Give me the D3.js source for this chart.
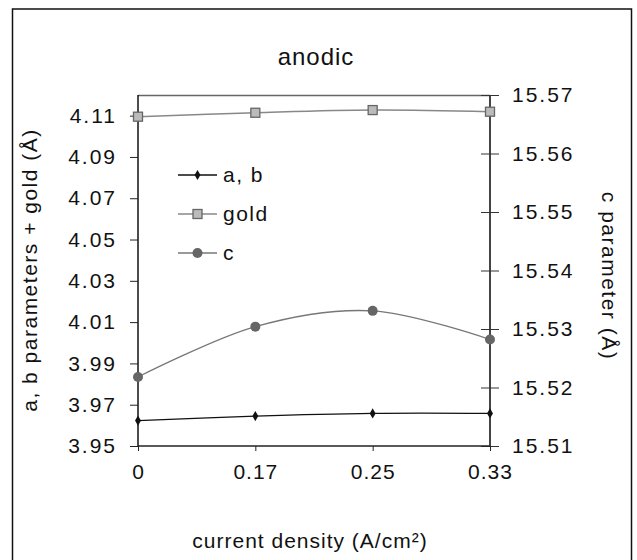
<!DOCTYPE html>
<html>
<head>
<meta charset="utf-8">
<script src="https://cdn.jsdelivr.net/npm/d3@7"></script>
<style>
  body { margin: 0; background: #fff; }
  svg text { font-family: Arial, "Liberation Sans", sans-serif; fill: #111; }
</style>
</head>
<body>
<svg id="chart" width="637" height="560"></svg>
<script>
// data
var categories = ["0", "0.17", "0.25", "0.33"];
var abValues   = [3.9623, 3.9645, 3.9658, 3.9658];
var goldValues = [4.1095, 4.1114, 4.1127, 4.1119];
var cValues    = [15.5218, 15.5304, 15.5331, 15.5282];
var leftTicks  = [3.95, 3.97, 3.99, 4.01, 4.03, 4.05, 4.07, 4.09, 4.11];
var rightTicks = [15.51, 15.52, 15.53, 15.54, 15.55, 15.56, 15.57];

var svg = d3.select("#chart");

var margin = {top: 95, right: 147, bottom: 114, left: 138},
    width = 637 - margin.left - margin.right,
    height = 560 - margin.top - margin.bottom;

// outer frame
svg.append("rect")
  .attr("x", 12.5).attr("y", 9)
  .attr("width", 619).attr("height", 570)
  .attr("fill", "none").attr("stroke", "#111").attr("stroke-width", 1.5);

var g = svg.append("g").attr("transform", "translate(" + margin.left + "," + margin.top + ")");

var x = d3.scalePoint().domain(categories).range([0, width]).padding(0);
var yLeft = d3.scaleLinear().domain([3.95, 4.12]).range([height, 0]);
var yRight = d3.scaleLinear().domain([15.51, 15.57]).range([height, 0]);

// top border of plot
g.append("line").attr("x1", 0).attr("x2", width).attr("y1", 0.5).attr("y2", 0.5)
  .attr("stroke", "#666").attr("stroke-width", 1.5);

// left axis
var left = g.append("g")
  .call(d3.axisLeft(yLeft).tickValues(leftTicks).tickSize(8).tickPadding(13).tickFormat(d3.format(".2f")));
left.select(".domain").attr("stroke", "#111").attr("stroke-width", 1.5).attr("d", "M0," + height + "V0");
left.selectAll(".tick line").attr("stroke", "#222");
left.selectAll("text").attr("font-size", 21).attr("letter-spacing", 2).attr("fill", "#111");

// right axis with crossing ticks
var right = g.append("g").attr("transform", "translate(" + width + ",0)")
  .call(d3.axisRight(yRight).tickValues(rightTicks).tickSize(9).tickPadding(13).tickFormat(d3.format(".2f")));
right.select(".domain").attr("stroke", "#444").attr("stroke-width", 2).attr("d", "M0," + height + "V0");
right.selectAll(".tick line").attr("x1", -9).attr("stroke", "#333");
right.selectAll("text").attr("font-size", 21).attr("letter-spacing", 2).attr("fill", "#111");

// bottom axis
var bottom = g.append("g").attr("transform", "translate(0," + height + ")")
  .call(d3.axisBottom(x).tickSize(5).tickPadding(13));
bottom.select(".domain").attr("stroke", "#222").attr("stroke-width", 1.5).attr("d", "M0,0H" + width);
bottom.selectAll(".tick line").attr("stroke", "#222");
bottom.selectAll("text").attr("font-size", 21).attr("letter-spacing", 1).attr("fill", "#111");

// series lines (smoothed like the original)
function lineFor(yScale) {
  return d3.line()
    .x(function(d, i) { return x(categories[i]); })
    .y(function(d) { return yScale(d); })
    .curve(d3.curveCardinal.tension(0));
}

g.append("path").datum(goldValues).attr("d", lineFor(yLeft))
  .attr("fill", "none").attr("stroke", "#888").attr("stroke-width", 1.5);
g.append("path").datum(cValues).attr("d", lineFor(yRight))
  .attr("fill", "none").attr("stroke", "#777").attr("stroke-width", 1.3);
g.append("path").datum(abValues).attr("d", lineFor(yLeft))
  .attr("fill", "none").attr("stroke", "#111").attr("stroke-width", 1.3);

// markers
var diamond = d3.symbol().type(d3.symbolDiamond).size(30);
function drawAb(sel) {
  sel.attr("d", diamond).attr("fill", "#111");
}
function drawGold(sel) {
  sel.attr("x", -4.5).attr("y", -4.5).attr("width", 9).attr("height", 9)
    .attr("fill", "#bbb").attr("stroke", "#666").attr("stroke-width", 1.3);
}
function drawC(sel) {
  sel.attr("r", 5).attr("fill", "#666");
}

g.selectAll(".gold").data(goldValues).enter().append("rect")
  .attr("class", "gold")
  .attr("transform", function(d, i) { return "translate(" + x(categories[i]) + "," + yLeft(d) + ")"; })
  .call(drawGold);
g.selectAll(".cpt").data(cValues).enter().append("circle")
  .attr("class", "cpt")
  .attr("transform", function(d, i) { return "translate(" + x(categories[i]) + "," + yRight(d) + ")"; })
  .call(drawC);
g.selectAll(".ab").data(abValues).enter().append("path")
  .attr("class", "ab")
  .attr("transform", function(d, i) { return "translate(" + x(categories[i]) + "," + yLeft(d) + ")"; })
  .call(drawAb);

// legend
var legendItems = [
  {name: "a, b", color: "#111", draw: function(s) { s.append("path").call(drawAb); }},
  {name: "gold", color: "#888", draw: function(s) { s.append("rect").call(drawGold); }},
  {name: "c", color: "#777", draw: function(s) { s.append("circle").call(drawC); }}
];
var legend = svg.append("g").attr("transform", "translate(178,175)");
legendItems.forEach(function(item, i) {
  var row = legend.append("g").attr("transform", "translate(0," + (i * 39) + ")");
  row.append("line").attr("x1", 0).attr("x2", 39).attr("stroke", item.color).attr("stroke-width", 1.3);
  var m = row.append("g").attr("transform", "translate(19.5,0)");
  item.draw(m);
  row.append("text").attr("x", 45).attr("dy", "0.35em")
    .attr("font-size", 21).attr("letter-spacing", 1.5).text(item.name);
});

// titles
svg.append("text").attr("x", 316).attr("y", 65).attr("text-anchor", "middle")
  .attr("font-size", 24).attr("letter-spacing", 1).text("anodic");

svg.append("text").attr("transform", "translate(37,270) rotate(-90)")
  .attr("text-anchor", "middle").attr("font-size", 21).attr("letter-spacing", 1.5)
  .text("a, b parameters + gold (Å)");

svg.append("text").attr("transform", "translate(602,276) rotate(90)")
  .attr("text-anchor", "middle").attr("font-size", 21).attr("letter-spacing", 1.5)
  .text("c parameter (Å)");

svg.append("text").attr("x", 310).attr("y", 548).attr("text-anchor", "middle")
  .attr("font-size", 21).attr("letter-spacing", 1).text("current density (A/cm²)");
</script>
</body>
</html>
